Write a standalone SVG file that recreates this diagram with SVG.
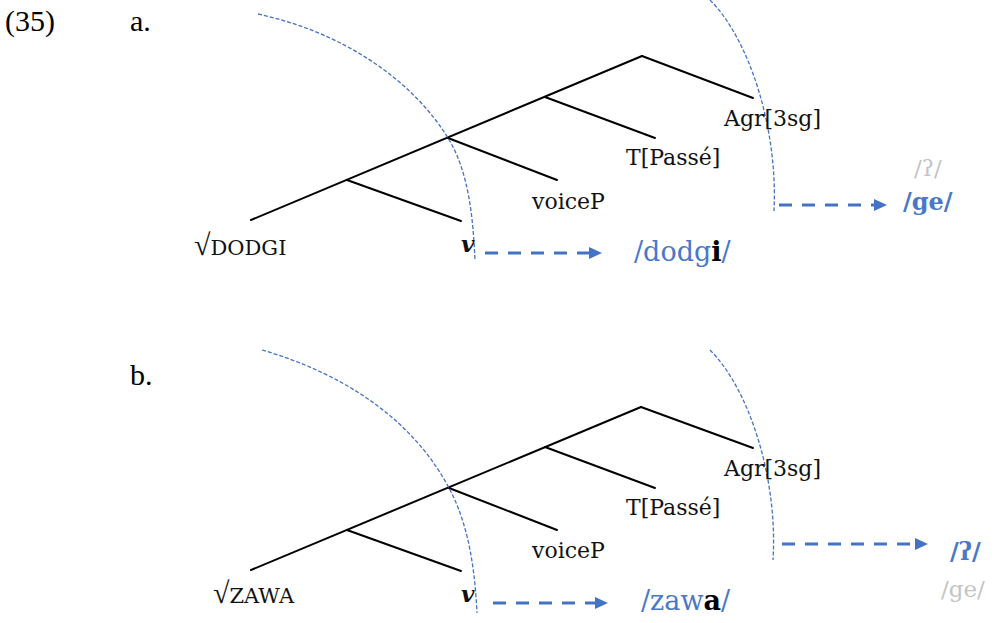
<svg xmlns="http://www.w3.org/2000/svg" width="994" height="623" viewBox="0 0 994 623">
  <style>
    .edge { stroke: #000; stroke-width: 2; fill: none; stroke-linecap: round; }
    .phase { stroke: #4472C4; stroke-width: 1.3; fill: none; stroke-dasharray: 4 2; }
    .spell { stroke: #4472C4; stroke-width: 3; fill: none; stroke-dasharray: 13 10; }
    .num { font-family: "Liberation Serif", serif; font-size: 30px; fill: #000; }
    .lab { font-family: "DejaVu Serif", serif; font-size: 22px; fill: #111; }
    .root { font-family: "DejaVu Serif", serif; font-size: 21px; fill: #111; }
    .rad { font-family: "Liberation Serif", serif; font-size: 30px; fill: #111; }
    .lv { font-family: "DejaVu Serif", serif; font-size: 23px; font-style: italic; font-weight: bold; fill: #111; }
    .exp { font-family: "DejaVu Serif", serif; font-size: 27px; fill: #4A78C8; }
    .expb { font-family: "DejaVu Serif", serif; font-size: 24px; font-weight: bold; fill: #4A78C8; }
    .alt { font-family: "DejaVu Serif", serif; font-size: 23px; fill: #C4C4C4; }
    .vi { fill: #000; font-weight: bold; }
  </style>
  <defs>
    <marker id="head" markerUnits="userSpaceOnUse" markerWidth="14" markerHeight="12" refX="0" refY="6" orient="auto">
      <path d="M0,0 L13,6 L0,12 z" fill="#4472C4"/>
    </marker>
  </defs>

  <rect width="994" height="623" fill="#fff"/>

  <text class="num" x="5" y="31">(35)</text>
  <text class="num" x="130" y="31">a.</text>
  <text class="num" x="130" y="385">b.</text>

  <!-- tree (a): branches, phase boundaries and spell-out arrows -->
  <g id="connectors-a">
    <path class="edge" d="M251,220 L642,56"/>
    <path class="edge" d="M347,180 L461,221"/>
    <path class="edge" d="M448,138 L557,180"/>
    <path class="edge" d="M545,97 L655,138"/>
    <path class="edge" d="M642,56 L753,98"/>
    <path class="phase" d="M258,14 C341,32 411,78 448,138 C469,172 473,218 475,260"/>
    <path class="phase" d="M710,0 C750,40 778,130 774,211"/>
    <path class="spell" d="M485,253 L589,253" marker-end="url(#head)"/>
    <path class="spell" d="M779,205 L874,205" marker-end="url(#head)"/>
  </g>

  <g id="root-dodgi"><text x="194" y="255"><tspan class="rad">√</tspan><tspan class="root">DODGI</tspan></text></g>
  <g id="v-a"><text class="lv" x="461" y="252">v</text></g>
  <g id="voiceP-a"><text class="lab" x="532" y="209">voiceP</text></g>
  <g id="T-a"><text class="lab" x="626" y="165">T[Passé]</text></g>
  <g id="Agr-a"><text class="lab" x="724" y="126">Agr[3sg]</text></g>
  <g id="out-dodgi"><text class="exp" x="634" y="261">/dodg<tspan class="vi">i</tspan>/</text></g>
  <g id="out-glottal-a"><text class="alt" x="914" y="176">/ʔ/</text></g>
  <g id="out-ge-a"><text class="expb" x="903" y="210">/ge/</text></g>

  <!-- tree (b) -->
  <g id="connectors-b">
    <path class="edge" d="M251,570 L641,407"/>
    <path class="edge" d="M347,530 L461,571"/>
    <path class="edge" d="M449,488 L557,530"/>
    <path class="edge" d="M545,447 L655,488"/>
    <path class="edge" d="M641,407 L753,448"/>
    <path class="phase" d="M262,350 C348,375 414,422 449,488 C469,525 475,571 477,613"/>
    <path class="phase" d="M710,350 C750,390 778,480 773,560"/>
    <path class="spell" d="M493,603 L595,603" marker-end="url(#head)"/>
    <path class="spell" d="M782,544 L915,544" marker-end="url(#head)"/>
  </g>

  <g id="root-zawa"><text x="213" y="603"><tspan class="rad">√</tspan><tspan class="root">ZAWA</tspan></text></g>
  <g id="v-b"><text class="lv" x="461" y="602">v</text></g>
  <g id="voiceP-b"><text class="lab" x="532" y="558">voiceP</text></g>
  <g id="T-b"><text class="lab" x="626" y="515">T[Passé]</text></g>
  <g id="Agr-b"><text class="lab" x="724" y="476">Agr[3sg]</text></g>
  <g id="out-zawa"><text class="exp" x="641" y="610">/zaw<tspan class="vi">a</tspan>/</text></g>
  <g id="out-glottal-b"><text class="expb" x="950" y="560">/ʔ/</text></g>
  <g id="out-ge-b"><text class="alt" x="941" y="597">/ge/</text></g>
</svg>
